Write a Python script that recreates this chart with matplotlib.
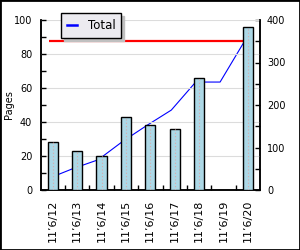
import matplotlib
matplotlib.use("Agg")
import matplotlib.pyplot as plt
from matplotlib.lines import Line2D
from matplotlib.patches import Rectangle

# data
dates = ["11\u20196/12", "11\u20196/13", "11\u20196/14", "11\u20196/15", "11\u20196/16",
         "11\u20196/17", "11\u20196/18", "11\u20196/19", "11\u20196/20"]
pages = [28, 23, 20, 43, 38, 36, 66, 0, 96]          # left axis, bars
total = [28, 51, 71, 114, 152, 188, 254, 254, 350]   # right axis, running total
total_max = 350                                      # red reference line

plt.rcParams["font.family"] = ["DejaVu Sans"]

fig = plt.figure(figsize=(3.0, 2.5), dpi=100)
fig.patch.set_facecolor("white")

ax = fig.add_axes([0.135, 0.24, 0.732, 0.68])
ax2 = ax.twinx()
ax.set_zorder(2)
ax2.set_zorder(1)
ax.patch.set_visible(False)
ax2.patch.set_facecolor("white")

x = list(range(len(dates)))
x_line = [i - 0.14 for i in x]

# running total + reference line (drawn under the bars)
ax2.plot(x_line, total, color="#0000ff", lw=0.8)
ax2.hlines(total_max, x_line[0], x[-1], color="#ff0000", lw=1.6)

# bars with a dotted centre line
ax.bar(x, pages, width=0.41, color="#add8e6", edgecolor="black", linewidth=1.0, zorder=3)
ax.vlines(x, 0, pages, colors="#dca8a8", linestyles=(0, (1, 2)), lw=0.8, zorder=4)

ax.set_xlim(-0.5, len(dates) - 0.5)
ax.set_ylim(0, 100)
ax2.set_ylim(0, 400)

ax.set_yticks(range(0, 101, 20))
ax.set_yticks(range(10, 100, 20), minor=True)
ax2.set_yticks(range(0, 401, 100))
ax2.set_yticks(range(50, 400, 100), minor=True)

ax.set_xticks(x)
ax.set_xticklabels(dates, rotation=90, fontsize=8)
ax.set_xticks([i + 0.5 for i in x[:-1]], minor=True)

ax.grid(axis="y", which="major", color="#dcdcdc", lw=0.8, zorder=0)
ax.set_axisbelow(True)

ax.tick_params(axis="x", which="major", length=0, pad=7)
ax.tick_params(axis="x", which="minor", direction="in", length=3.6, width=1)
ax.tick_params(axis="y", which="both", direction="in", length=3.6, width=1,
               labelsize=7, pad=6)
ax2.tick_params(axis="y", which="both", direction="in", length=3.6, width=1,
                labelsize=7, pad=5)

ax.set_ylabel("Pages", fontsize=7)
ax.yaxis.set_label_coords(-0.122, 0.5)

for a in (ax, ax2):
    a.spines["top"].set_visible(False)
    for s in ("left", "right", "bottom"):
        a.spines[s].set_linewidth(1.1)

handle = Line2D([], [], color="#0000ff", lw=1.8)
fig.legend([handle], ["Total"], loc="upper left", bbox_to_anchor=(0.202, 0.947),
           borderaxespad=0, fontsize=8.5, handlelength=0.9, handletextpad=0.9,
           borderpad=0.5, fancybox=False, framealpha=1, facecolor="#ecebf0",
           edgecolor="black",
           shadow={"ox": 2.2, "oy": -2.2, "color": "#c0c0c0", "alpha": 1})
fig.legends[0].get_frame().set_linewidth(1.0)

# outer border of the picture
fig.patches.append(Rectangle((0, 0), 1, 1, transform=fig.transFigure, fill=False,
                             edgecolor="black", lw=2, zorder=10))

fig.savefig("out.png", dpi=100, facecolor=fig.get_facecolor())
